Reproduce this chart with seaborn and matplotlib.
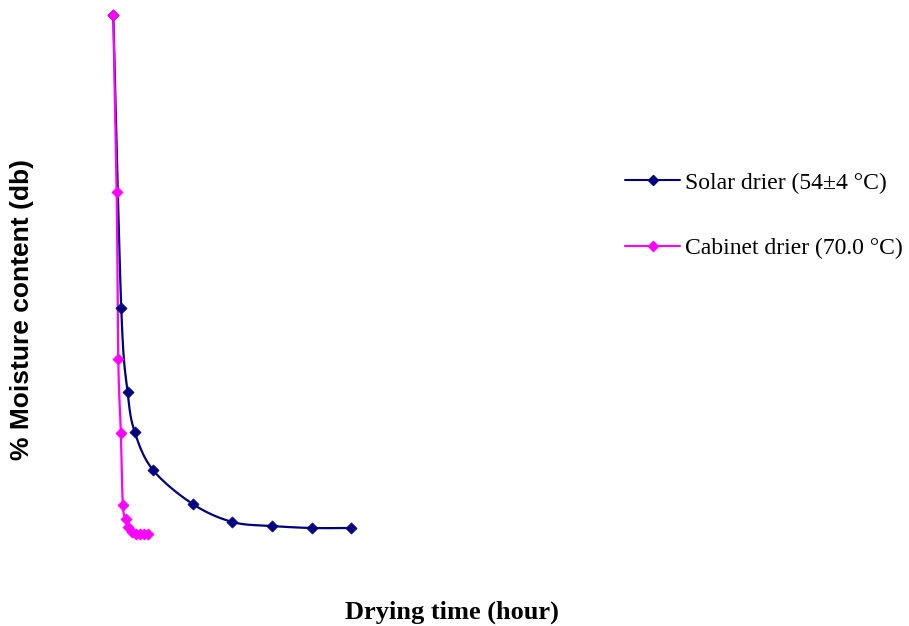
import numpy as np
import matplotlib
matplotlib.use('Agg')
import matplotlib.pyplot as plt
import seaborn as sns
from matplotlib.lines import Line2D

# drying curves (time in hours, moisture % db)
solar_time = [0, 0.2, 0.36, 0.54, 1, 2, 3, 4, 5, 6]
solar_mc = [530, 237, 153, 113, 75, 41, 23, 19, 17, 17]

cabinet_time = [0, 0.085, 0.125, 0.19, 0.24, 0.32, 0.38, 0.47, 0.57, 0.67, 0.77, 0.87]
cabinet_mc = [530, 353, 186, 112, 40, 26, 18, 13, 11, 11, 11, 11]

labels = ['Solar drier (54\u00b14 \u00b0C)', 'Cabinet drier (70.0 \u00b0C)']
colors = ['#000080', '#FF00FF']


def smooth(x, y, n=24):
    # Catmull-Rom style smoothing, similar to Excel's smoothed line
    x = np.asarray(x, float)
    y = np.asarray(y, float)
    px = np.concatenate([[x[0]], x, [x[-1]]])
    py = np.concatenate([[y[0]], y, [y[-1]]])
    xs, ys = [], []
    t = np.linspace(0, 1, n)
    for i in range(1, len(px) - 2):
        p0, p1, p2, p3 = (np.array([px[j], py[j]]) for j in (i - 1, i, i + 1, i + 2))
        c1 = p1 + (p2 - p0) / 6
        c2 = p2 - (p3 - p1) / 6
        seg = ((1 - t) ** 3)[:, None] * p1 + (3 * (1 - t) ** 2 * t)[:, None] * c1 \
            + (3 * (1 - t) * t ** 2)[:, None] * c2 + (t ** 3)[:, None] * p2
        xs.extend(seg[:, 0])
        ys.extend(seg[:, 1])
    return np.array(xs), np.array(ys)


sns.set_style('white')
plt.rcParams['text.color'] = 'black'
fig = plt.figure(figsize=(9.09, 6.26), dpi=100)
W, H = 909, 626
ax = fig.add_axes([100 / W, (H - 560) / H, 500 / W, 555 / H])

series = [(solar_time, solar_mc), (cabinet_time, cabinet_mc)]
for (t, m), c in zip(series, colors):
    sx, sy = smooth(t, m)
    sns.lineplot(x=sx, y=sy, sort=False, estimator=None, color=c, lw=1.6, ax=ax)
    sns.scatterplot(x=t, y=m, marker='D', s=32, color=c, edgecolor=c, linewidth=0.5, ax=ax, zorder=3)

ax.set_xlim(-0.335, 12.26)
ax.set_ylim(-15, 540)
ax.set_xticks([])
ax.set_yticks([])
for s in ax.spines.values():
    s.set_visible(False)
ax.set_xlabel('')
ax.set_ylabel('')

fig.text(452 / W, 1 - 612 / H, 'Drying time (hour)', ha='center', va='center',
         family='Liberation Serif', fontweight='bold', fontsize=19, color='black')
fig.text(22 / W, 1 - 310 / H, '% Moisture content (db)', ha='center', va='center',
         rotation=90, family='Liberation Sans', fontweight='bold', fontsize=19, color='black')

handles = [Line2D([0], [0], color=c, lw=1.5, marker='D', markersize=5) for c in colors]
fig.legend(handles, labels, loc='center left', bbox_to_anchor=(625 / W, 1 - 215.5 / H),
           frameon=False, numpoints=1, borderpad=0, borderaxespad=0,
           handlelength=2.35, handletextpad=0.2, labelspacing=1.85,
           prop={'family': 'Liberation Serif', 'size': 17}, labelcolor='black')

fig.savefig('out.png', dpi=100)
